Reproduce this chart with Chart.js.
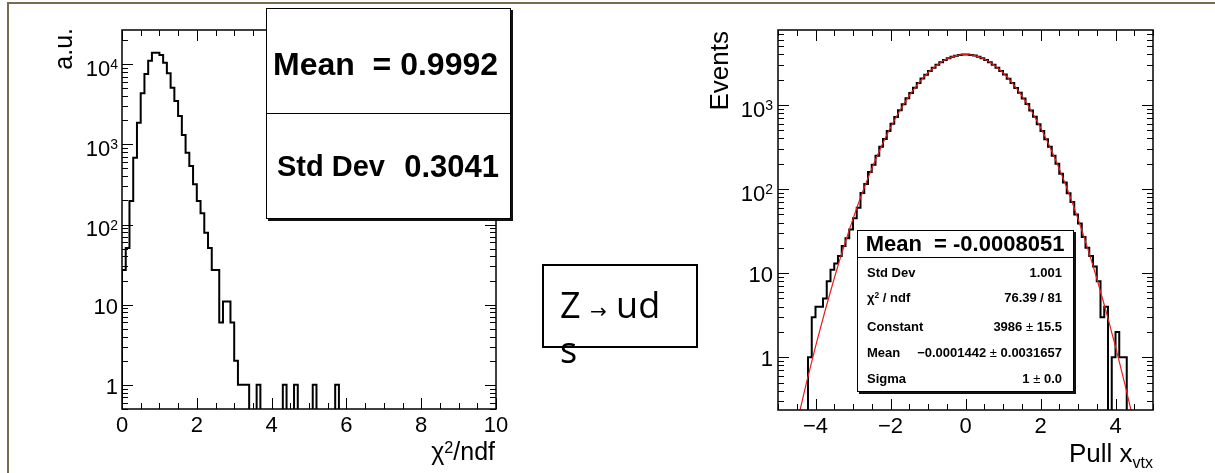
<!DOCTYPE html>
<html>
<head>
<meta charset="utf-8">
<script src="https://cdn.jsdelivr.net/npm/chart.js@4.4.0/dist/chart.umd.min.js"></script>
<style>
  body { margin: 0; background: #fff; width: 1215px; height: 473px; overflow: hidden; position: relative; }
  canvas { position: absolute; left: 0; top: 0; }
  .t { position: absolute; white-space: pre; line-height: 1; font-family: "Liberation Sans", Arial, sans-serif; color: #000; }
  .b { font-weight: bold; }
  .box { position: absolute; box-sizing: border-box; background: #fff; border: 1px solid #000; box-shadow: 2px 2px 0 #111; }
  .sup { position: relative; top: -0.45em; font-size: 0.65em; }
</style>
</head>
<body>
<div style="position:absolute;left:7px;top:2px;width:1206px;height:480px;border-top:2px solid #7a6a52;border-left:2px solid #7a6a52;"></div>
<canvas id="chiChart" width="1215" height="473"></canvas>
<canvas id="pullChart" width="1215" height="473"></canvas>

<!-- axis titles -->
<div class="t" style="left:51px;top:128px;width:100px;text-align:right;font-size:25px;transform:rotate(-90deg);transform-origin:0 0;">a.u.</div>
<div class="t" style="right:720px;top:439px;font-size:25px;">χ<span class="sup">2</span>/ndf</div>
<div class="t" style="left:706px;top:131px;width:100px;text-align:right;font-size:26px;transform:rotate(-90deg);transform-origin:0 0;">Events</div>
<div class="t" style="right:62px;top:440px;font-size:26px;">Pull x<span style="position:relative;top:6px;font-size:16px;">vtx</span></div>

<!-- left stats box -->
<div class="box" style="left:266px;top:8px;width:245px;height:211px;"></div>
<div style="position:absolute;left:266px;top:113px;width:244px;height:1px;background:#000;"></div>
<div class="t b" style="left:273px;top:48px;font-size:32px;">Mean  = 0.9992</div>
<div class="t b" style="left:277px;top:152px;font-size:29px;">Std Dev</div>
<div class="t b" style="right:716px;top:151px;font-size:31px;">0.3041</div>

<!-- Z box -->
<div style="position:absolute;left:542px;top:264px;width:156px;height:84px;box-sizing:border-box;border:2px solid #000;"></div>
<div style="position:absolute;left:560px;top:282px;font:36px 'Open Sans',sans-serif;line-height:45px;white-space:pre;color:#000;">Z <span style="font:20px 'DejaVu Sans';">→</span> ud<br>s</div>

<!-- right stats box -->
<div class="box" style="left:857px;top:230px;width:217px;height:162px;"></div>
<div style="position:absolute;left:857px;top:257px;width:216px;height:1px;background:#000;"></div>
<div class="t b" style="left:857px;width:216px;text-align:center;top:233px;font-size:22px;">Mean  = -0.0008051</div>
<div class="t b" style="left:867px;top:266px;font-size:13px;">Std Dev</div>
<div class="t b" style="right:153px;top:266px;font-size:13px;">1.001</div>
<div class="t b" style="left:867px;top:291px;font-size:13px;">χ<span class="sup">2</span> / ndf</div>
<div class="t b" style="right:153px;top:291px;font-size:13px;">76.39 / 81</div>
<div class="t b" style="left:867px;top:320px;font-size:13px;">Constant</div>
<div class="t b" style="right:153px;top:320px;font-size:13px;">3986 <span style="font-weight:normal">±</span> 15.5</div>
<div class="t b" style="left:867px;top:346px;font-size:13px;">Mean</div>
<div class="t b" style="right:153px;top:346px;font-size:13px;">−0.0001442 <span style="font-weight:normal">±</span> 0.0031657</div>
<div class="t b" style="left:867px;top:372px;font-size:13px;">Sigma</div>
<div class="t b" style="right:153px;top:372px;font-size:13px;">1 <span style="font-weight:normal">±</span> 0.0</div>

<script>
// chi2/ndf histogram: 100 bins from 0 to 10
const chiLow = 0, chiHigh = 10, chiWidth = 0.1;
const chiCounts = [
  27, 51, 197, 683, 1866, 4340, 7550, 11060, 13900, 13900,
  13000, 10440, 7700, 5100, 3475, 2260, 1310, 788, 538, 318,
  197, 138, 79, 51, 27, 27, 6, 11, 11, 6,
  2, 1, 1, 1, 0, 0, 1, 0, 0, 0,
  0, 0, 0, 1, 0, 0, 1, 0, 0, 0,
  0, 1, 0, 0, 0, 0, 0, 1, 0, 0,
  0, 0, 0, 0, 0, 0, 0, 0, 0, 0,
  0, 0, 0, 0, 0, 0, 0, 0, 0, 0,
  0, 0, 0, 0, 0, 0, 0, 0, 0, 0,
  0, 0, 0, 0, 0, 0, 0, 0, 0, 0
];
const chiXTicks = [0, 2, 4, 6, 8, 10];
const chiYTicks = [1, 10, 100, 1000, 10000];

// vertex pull histogram: 100 bins from -5 to 5
const pullLow = -5, pullHigh = 5, pullWidth = 0.1;
const pullCounts = [
  0, 0, 0, 0, 0, 0, 0, 0, 1, 3,
  4, 4, 5, 8, 11, 13, 16, 21, 26, 33,
  45, 60, 90, 115, 160, 195, 250, 318, 393, 490,
  597, 718, 864, 1020, 1201, 1390, 1605, 1822, 2060, 2293,
  2541, 2774, 3012, 3224, 3430, 3597, 3753, 3858, 3946, 3976,
  3985, 3936, 3867, 3744, 3607, 3421, 3231, 3004, 2782, 2533,
  2301, 2052, 1829, 1598, 1397, 1195, 1025, 858, 723, 592,
  491, 392, 319, 249, 200, 152, 120, 89, 70, 50,
  39, 27, 20, 16, 12, 8, 3, 4, 0, 1,
  2, 1, 1, 0, 0, 0, 0, 0, 0, 0
];
// gaussian fit curve
const fitX = [-4.5, -4.25, -4, -3.75, -3.5, -3.25, -3, -2.75, -2.5, -2.25, -2, -1.75, -1.5, -1.25, -1, -0.75, -0.5, -0.25,
  0, 0.25, 0.5, 0.75, 1, 1.25, 1.5, 1.75, 2, 2.25, 2.5, 2.75, 3, 3.25, 3.5, 3.75, 4, 4.25, 4.5];
const fitY = [0.16, 0.48, 1.34, 3.5, 8.7, 20.3, 44.3, 91, 175, 317, 539, 862, 1294, 1825, 2418, 3009, 3518, 3863,
  3986, 3863, 3518, 3009, 2418, 1825, 1294, 862, 539, 317, 175, 91, 44.3, 20.3, 8.7, 3.5, 1.34, 0.48, 0.16];
const pullXTicks = [-4, -2, 0, 2, 4];
const pullYTicks = [1, 10, 100, 1000];

const FONT = '"Liberation Sans", Arial, sans-serif';

// outline points for a step histogram; empty bins drop below the axis and get clipped
function histPoints(low, width, counts) {
  const pts = [{x: low, y: 1e-3}];
  counts.forEach((c, i) => pts.push({x: low + i * width, y: c > 0 ? c : 1e-3}));
  pts.push({x: low + counts.length * width, y: 1e-3});
  return pts;
}

// ROOT style frame: inward ticks on all four sides, 10^n labels
const rootAxes = {
  id: 'rootAxes',
  afterDatasetsDraw(chart, args, o) {
    const {ctx, chartArea: a} = chart;
    const x = chart.scales.x, y = chart.scales.y;
    ctx.save();
    ctx.strokeStyle = '#000';
    ctx.lineWidth = 1;
    ctx.beginPath();
    const n = Math.round((x.max - x.min) / o.xMinor);
    for (let i = 0; i <= n; i++) {
      const v = x.min + i * o.xMinor;
      const px = Math.round(x.getPixelForValue(v)) + 0.5;
      const r = v / o.xMajor;
      const len = Math.abs(r - Math.round(r)) < 1e-6 ? 11 : 6;
      ctx.moveTo(px, a.bottom); ctx.lineTo(px, a.bottom - len);
      ctx.moveTo(px, a.top); ctx.lineTo(px, a.top + len);
    }
    for (let d = Math.floor(Math.log10(y.min)); d <= Math.ceil(Math.log10(y.max)); d++) {
      for (let m = 1; m < 10; m++) {
        const v = m * Math.pow(10, d);
        if (v < y.min || v > y.max) continue;
        const py = Math.round(y.getPixelForValue(v)) + 0.5;
        const len = m === 1 ? 11 : 6;
        ctx.moveTo(a.left, py); ctx.lineTo(a.left + len, py);
        ctx.moveTo(a.right, py); ctx.lineTo(a.right - len, py);
      }
    }
    ctx.stroke();
    ctx.lineWidth = 1.5;
    ctx.strokeRect(a.left, a.top, a.right - a.left, a.bottom - a.top);

    ctx.fillStyle = '#000';
    ctx.textBaseline = 'alphabetic';
    ctx.textAlign = 'left';
    const xr = a.left - o.labelGap;
    o.yTicks.forEach(v => {
      const py = y.getPixelForValue(v);
      const e = Math.round(Math.log10(v));
      if (e >= 2) {
        ctx.font = '14px ' + FONT;
        const we = ctx.measureText(String(e)).width;
        ctx.fillText(String(e), xr - we, py + 5);
        ctx.font = '22px ' + FONT;
        const wb = ctx.measureText('10').width;
        ctx.fillText('10', xr - we - wb, py + 11.5);
      } else {
        ctx.font = '22px ' + FONT;
        const s = String(v);
        ctx.fillText(s, xr - ctx.measureText(s).width, py + 9);
      }
    });
    ctx.restore();
  }
};

function makeHist(id, cfg) {
  const datasets = [{
    data: histPoints(cfg.low, cfg.width, cfg.counts),
    stepped: 'before',
    borderColor: '#000',
    borderWidth: 2,
    pointRadius: 0,
    fill: false,
    order: 1
  }];
  if (cfg.fit) {
    datasets.push({
      data: cfg.fit.x.map((v, i) => ({x: v, y: cfg.fit.y[i]})),
      borderColor: 'rgb(235,30,30)',
      borderWidth: 1.2,
      pointRadius: 0,
      fill: false,
      cubicInterpolationMode: 'monotone',
      order: 0
    });
  }
  return new Chart(document.getElementById(id), {
    type: 'line',
    data: {datasets},
    options: {
      responsive: false,
      animation: false,
      events: [],
      layout: {padding: cfg.padding},
      plugins: {
        legend: {display: false},
        tooltip: {enabled: false},
        rootAxes: {xMinor: 0.5, xMajor: 2, yTicks: cfg.yTicks, labelGap: cfg.labelGap}
      },
      scales: {
        x: {
          type: 'linear',
          min: cfg.low,
          max: cfg.high,
          afterBuildTicks: s => { s.ticks = cfg.xTicks.map(v => ({value: v})); },
          afterFit: s => { s.height = 40; },
          grid: {display: false, drawTicks: false},
          border: {display: false},
          ticks: {
            color: '#000',
            padding: 4,
            maxRotation: 0,
            autoSkip: false,
            font: {family: FONT, size: 22},
            callback: v => (v < 0 ? '\u2212' + Math.abs(v) : String(v))
          }
        },
        y: {
          type: 'logarithmic',
          min: cfg.yMin,
          max: cfg.yMax,
          afterFit: s => { s.width = 60; },
          grid: {display: false, drawTicks: false},
          border: {display: false},
          ticks: {display: false}
        }
      }
    },
    plugins: [rootAxes]
  });
}

makeHist('chiChart', {
  low: chiLow, high: chiHigh, width: chiWidth, counts: chiCounts,
  xTicks: chiXTicks, yTicks: chiYTicks, yMin: 0.5, yMax: 26700, labelGap: 4,
  padding: {left: 62, top: 30, right: 719, bottom: 24}
});

makeHist('pullChart', {
  low: pullLow, high: pullHigh, width: pullWidth, counts: pullCounts,
  fit: {x: fitX, y: fitY},
  xTicks: pullXTicks, yTicks: pullYTicks, yMin: 0.236, yMax: 7800, labelGap: 5,
  padding: {left: 718, top: 30, right: 62, bottom: 23}
});
</script>
</body>
</html>
